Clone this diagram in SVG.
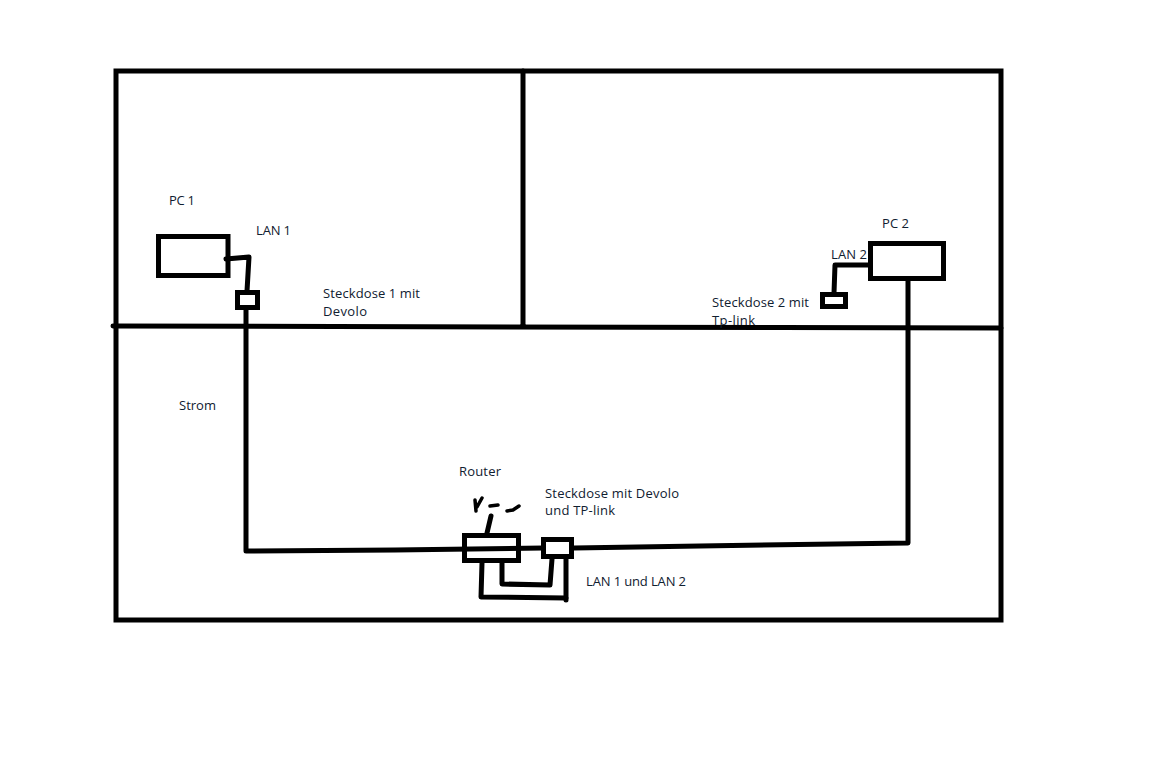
<svg xmlns="http://www.w3.org/2000/svg" width="1152" height="765" viewBox="0 0 1152 765">
<style>
.s{fill:none;stroke:#000;stroke-width:5;stroke-linecap:round;stroke-linejoin:round}
.m{fill:none;stroke:#000;stroke-width:3.500;stroke-linecap:round;stroke-linejoin:round}
.b{fill:none;stroke:#000;stroke-width:5}
.t{font-family:"Open Sans","Noto Sans",sans-serif;font-size:13px;fill:#102030}
</style>
<rect width="1152" height="765" fill="#fff"/>
<g id="walls">
<rect class="b" x="116" y="71" width="885" height="549"/>
<path class="s" d="M523 71V327M113 326L335 326.500L780 327.500L1001 328"/>
</g>
<g id="connectors">
<path class="s" d="M226 259L249 257L247 291"/>
<path class="s" d="M246 308V551L395 550L543 548"/>
<path class="s" d="M574 548L700 546L908 543V280"/>
<path class="s" d="M870 265H835L834 293"/>
<path class="s" d="M482 563L481 597L566 598"/>
<path class="s" d="M566 559V600"/>
<path class="s" d="M502 563V584L550 585L552 559"/>
<path class="s" d="M491 516L487 533"/>
<path class="m" d="M475 500L476 511M477 507L482 498M490 506L498 505M507 511L513 510L519 506"/>
</g>
<g id="pc1"><rect class="b" x="158.500" y="236.500" width="69.500" height="39"/><text class="t" x="169" y="205" textLength="26">PC 1</text></g>
<g id="lan1"><text class="t" x="256" y="235" textLength="35">LAN 1</text></g>
<g id="socket1"><rect class="b" x="237.500" y="292.500" width="20" height="15"/><text class="t" x="323" y="298" textLength="97">Steckdose 1 mit</text><text class="t" x="323" y="316" textLength="44">Devolo</text></g>
<g id="pc2"><rect class="b" x="870.500" y="243.500" width="73" height="35"/><text class="t" x="882" y="228" textLength="27">PC 2</text></g>
<g id="lan2"><text class="t" x="831" y="259" textLength="36">LAN 2</text></g>
<g id="socket2"><rect class="b" x="822.500" y="294.500" width="23" height="12"/><text class="t" x="712" y="307" textLength="97">Steckdose 2 mit</text><text class="t" x="712" y="325" textLength="43">Tp-link</text></g>
<g id="strom"><text class="t" x="179" y="410" textLength="37">Strom</text></g>
<g id="router"><rect class="b" x="464.500" y="535.500" width="54" height="25"/><text class="t" x="459" y="476" textLength="42">Router</text></g>
<g id="socket3"><rect class="b" x="543.500" y="539.500" width="28" height="17"/><text class="t" x="545" y="498" textLength="134">Steckdose mit Devolo</text><text class="t" x="545" y="515" textLength="70">und TP-link</text></g>
<g id="lan12"><text class="t" x="586" y="586" textLength="100">LAN 1 und LAN 2</text></g>
</svg>
